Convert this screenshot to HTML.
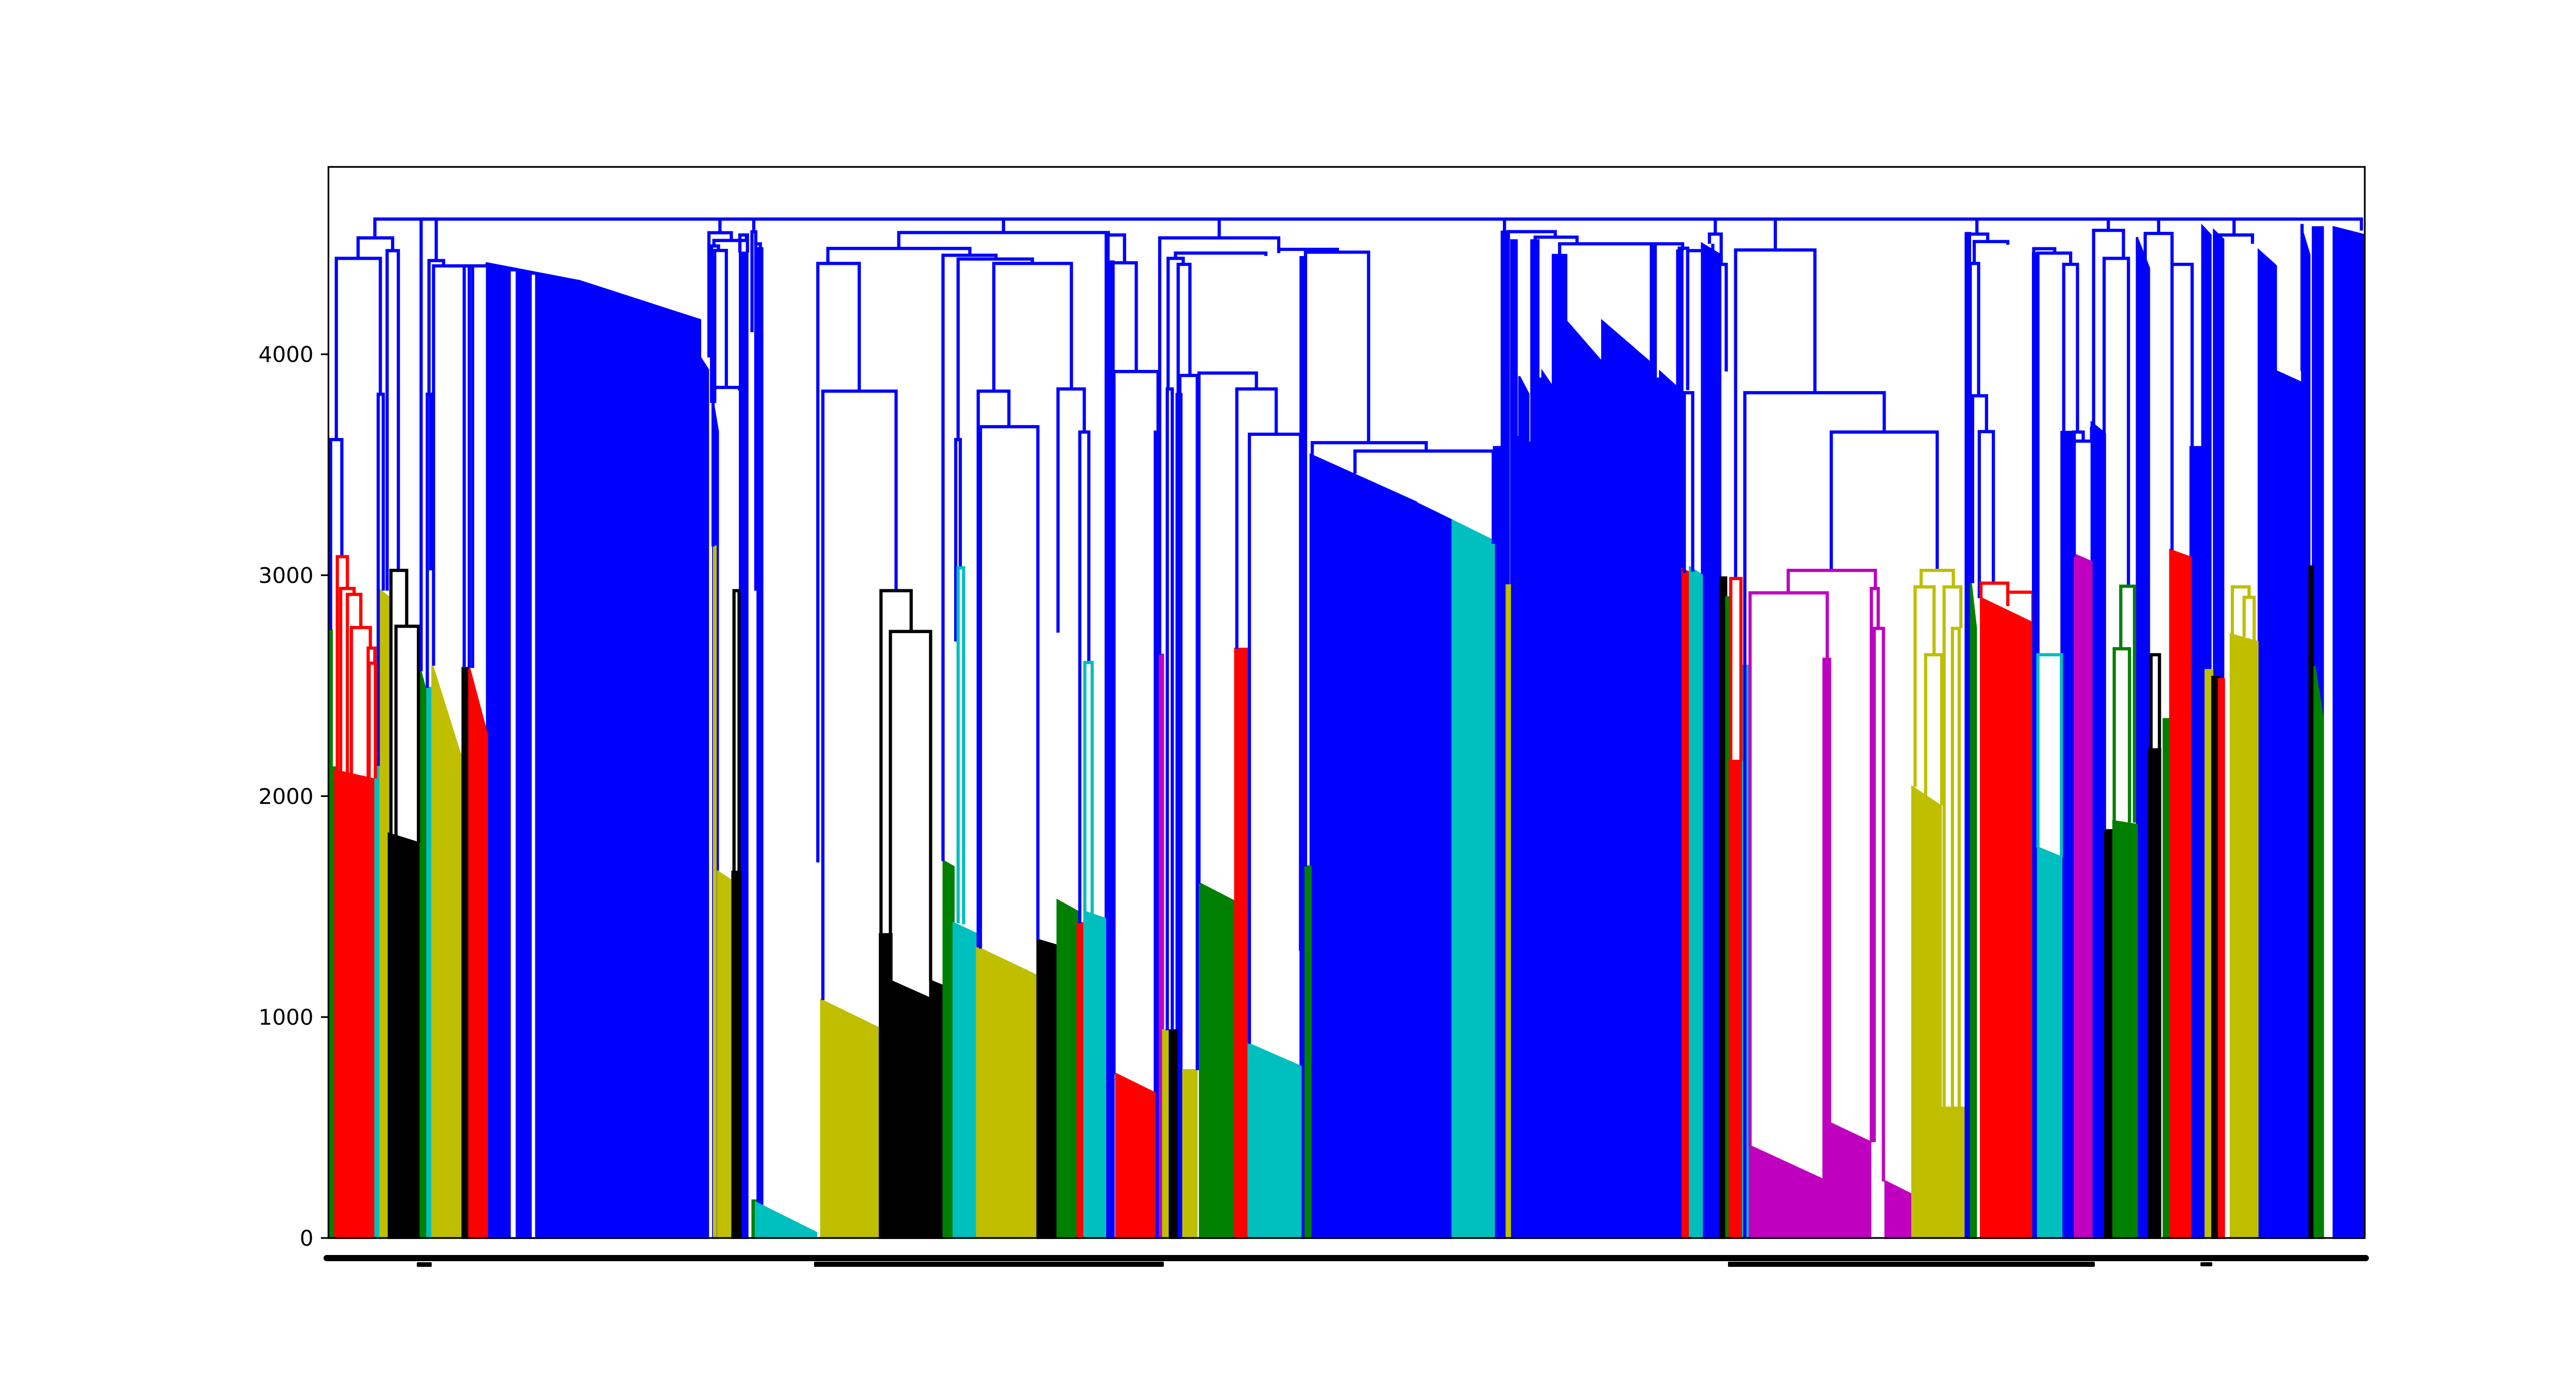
<!DOCTYPE html>
<html>
<head>
<meta charset="utf-8">
<style>
  html, body { margin:0; padding:0; background:#fff; }
  svg { display:block; }
  text { font-family: "DejaVu Sans", "Liberation Sans", sans-serif; }
</style>
</head>
<body>
<svg id="chart" xmlns="http://www.w3.org/2000/svg" width="5100" height="2700" viewBox="0 0 5100 2700">
  <rect x="0" y="0" width="5100" height="2700" fill="#ffffff"/>
  <g id="fills"></g>
  <g id="links"></g>
  <g id="axes"></g>
</svg>
<script>
// ---------- data ----------
const yTickValues = [0, 1000, 2000, 3000, 4000];
const yTickLabels = ["0", "1000", "2000", "3000", "4000"];

// dense leaf clusters (leaf-position units 0..1215, heights in distance units)
const fillStart = [0.5,0.5,4,28,31,36,55,59,62,80,84,94.6,150,221.8,229.5,232.4,230,241,245.5,256,253,255,294,329,336,359,367,373,387,423,435,447,451,463.7,466.5,470,493,496,498,502,506,510,520,541,549,580,583,586,649,670.7,695.4,700,703,705.7,709,710.5,716,717.7,722,724.3,730.5,738.6,760,789,792,794.5,804.7,807.9,812.3,819.5,830.5,834,836,844,848,892,896,929,945,962,977,980,986,1017,1020,1034,1042,1052,1060,1065,1079,1086.3,1095,1098.9,1111,1118,1125,1120,1124,1128,1135,1151.7,1162,1177.6,1182,1184,1185,1196.4];
const fillEnd = [4,2,28,31,36,55,59,62,79,84,94.6,150,221.8,226.5,232.4,241,231,246,250,258.9,255,291,329,336,359,367,373,387,423,435,447,451,464,465.5,468.5,493,496,498,502,506,509,518,541,549,580,583,586,649,670.7,695.4,700,704.3,705,709,710.5,716,717.7,722,724.3,730.5,738.6,760,789,792,794.5,804.7,807.9,812.3,819.5,830.5,834,835.5,844,847,892,896,920,945,962,977,979.5,983,1017,1020,1034,1042,1052,1060,1065,1079,1086.3,1093,1098.9,1111,1118,1123,1130.6,1124,1128,1131,1151,1162,1177.6,1182,1184,1190,1190,1214.5];
const fillHeightLeft = [2130,2750,2116,2137,2930,1830,2565,2490,2590,2580,2580,4412,4331,3986,3780,1658,3130,1658,4460,4480,170,160,1077,1375,1162,1165,1706,1425,1316,1350,1528,1425,1477,4540,4420,742,3650,2640,940,940,3820,760,1604,2667,879,4440,1682,3545,3327,3247,3580,4555,2954,4516,3626,3900,3600,4516,3890,3920,4450,4150,4150,4500,3890,3920,4470,3028,3035,4500,2990,2900,2160,2590,417,2622,520,256,2041,590,4549,2964,2896,4458,1767,3649,3093,3690,1846,1887,4530,2212,2349,3114,3580,4580,4560,2571,2540,2530,2732,4470,3924,4560,3040,4575,2588,4575];
const fillHeightRight = [2130,2750,2075,2137,2900,1785,2450,2490,2180,2580,2280,4331,4155,3930,3650,1614,3130,1658,4460,4480,170,24,947,1375,1084,1140,1680,1375,1186,1323,1477,1425,1443,4540,4420,656,3650,2640,940,940,3820,760,1522,2667,776,4440,1682,3330,3247,3154,3580,4555,2954,4516,3626,3820,3600,4516,3890,3850,4450,3963,3960,4500,3890,3850,4470,3010,3000,4450,2990,2900,2160,2590,263,2622,434,195,1955,590,4549,2760,2783,4458,1723,3649,3060,3640,1846,1870,4390,2212,2349,3080,3580,4540,4520,2571,2540,2530,2698,4400,3870,4450,3040,4575,2350,4540];
const fillColor = ["g","g","r","c","y","k","g","c","y","k","r","b","b","b","b","y","y","k","b","b","g","c","y","k","k","k","g","c","y","k","g","r","c","b","b","r","b","m","y","k","b","y","g","r","c","b","g","b","b","c","b","b","y","b","b","b","b","b","b","b","b","b","b","b","b","b","b","r","c","b","k","g","r","c","m","m","m","m","y","y","b","g","r","b","c","b","m","b","k","g","b","k","g","r","b","b","b","y","k","r","y","b","b","b","k","b","g","b"];

// white gaps between dense blue leaves
const gapStart = [108.8, 121.3];
const gapEnd = [111.7, 123.3];
const gapHeight = [4375, 4360];

// U-shaped links: left leaf, right leaf, merge height, left child height, right child height
const linkLeft = [27.7,17.7,4.7,35,1.3,29.7,37.3,40.3,5.3,7.3,11.3,13.7,23.7,24.3,55.3,60,59,62.7,81,86,227,230,233.6,228.6,230.5,229.5,242,245.5,252.7,253.8,255,256.5,292,295,329.7,335.3,298,340.3,402.8,366.7,375.7,374.3,375.7,397,387.7,389,435.3,448.3,451.3,465,468,468.7,496,531.5,500.5,501,507,508,505.4,519.4,542,549.5,567,583,587,612.5,701.7,704,720,734.6,809,806,811,824,827.5,829,839.6,863.3,836.7,845.1,896.7,871,848.2,920.6,922.3,950.3,946.7,953,964,969,977.2,983.6,982,979.6,981,985,986,1002,1017.5,1020,1020,1035.4,1040.3,1041.4,1053.2,1062,1059.5,1069.4,1065.5,1084,1092,1087.5,1100,1126,1137,1136,1143,1177.6];
const linkRight = [1213,38.3,31,41.7,8,32.7,46.7,53.7,11.3,15.3,19.3,25,27.7,28,64.3,68.7,61,86,84,94.6,240.4,249.4,233.6,232.7,237.4,245.3,245,250,255,253.8,257.7,258.4,316.7,338.7,347.7,359.3,382.7,465.3,402.8,398.3,420,377,379,443.3,406,423.3,451,453.7,455.7,475,482,495,567,531.5,503.5,510,514,518.4,559.3,553.7,565.5,580,602,620.6,655,695,701.7,732,745,808,814,811,826,831,827.5,834,886.9,863.3,842.8,928.3,959.9,923,894.3,924.7,927.8,969.5,958,962.6,974,973,990,983.6,1002,984.6,989.3,993.4,1002,1017,1030,1039.5,1034,1043.6,1047,1052,1071,1062,1074,1077.6,1074.6,1100,1092,1092.5,1112,1148,1137,1146,1149,1177.6];
const linkHeight = [4612,4527,4434,4469,3614,3819,3022,2769,3084,2940,2913,2763,2670,2602,4612,4424,3819,4400,4400,4400,4550,4515,4612,4490,4470,3850,2930,4540,4554,4612,4500,3836,4411,3833,2930,2745,4479,4551,4612,4448,4431,3614,3033,4411,3833,3672,3843,3648,2605,4540,4414,3922,4527,4612,3843,4434,4407,3904,4458,3915,3843,3638,4475,4462,3600,3562,4612,4555,4530,4500,3826,4480,4469,4544,4612,4407,4472,4612,2985,3826,3648,3022,2920,2940,2759,3022,2947,2640,2947,2759,4544,4612,4510,4411,3812,3650,2964,2923,4478,4458,2640,4407,3648,3607,4561,4612,4434,2950,2667,4547,4612,2640,4407,4540,4612,2947,2900,4590];
const linkLeftBase = [4527,4434,3614,2930,2752,2137,1830,1820,2116,2110,2100,2090,2080,2080,2565,3819,2490,2590,2580,2580,3986,4490,4550,3780,3780,3130,1658,4460,4100,4554,2930,2960,1700,1077,1375,1162,4411,4479,4551,1706,3614,2700,1425,3833,1316,1310,2740,1425,1477,0,0,742,2640,4527,940,3843,3820,3650,4434,1604,2667,879,4458,1682,3545,3460,4555,4516,4516,4450,3009,4470,3838,4500,4544,2990,2985,4472,2160,0,3022,2920,417,434,434,2947,2041,2000,590,590,0,4544,4411,2964,2964,2896,2896,2860,0,2640,1767,3649,3649,3084,3672,4561,1846,2667,1887,4390,4547,2212,3114,4540,4540,2732,2720,3924];
const linkRightBase = [4560,4469,3819,3022,3084,2930,2769,1790,2940,2913,2763,2670,2602,2080,4424,4400,3022,4400,2580,4412,4515,4540,4550,4470,3850,3836,1658,4460,4500,4554,3836,2960,3833,2930,2745,1165,4448,4540,4551,4431,4411,3033,1420,3843,3672,1350,3648,2605,1450,4414,3922,3650,4475,4527,940,4407,3904,760,4445,3843,3638,1300,4462,3600,3562,3142,4555,4530,4500,4470,3016,3838,4500,4407,4544,3922,3826,4472,2160,3648,3022,2940,2622,2759,256,2947,2640,1960,2759,590,4510,4544,4496,3812,3650,2964,2923,2783,4458,4407,1723,3648,3607,3672,4434,4561,2950,1880,1880,4407,4547,2212,3580,4500,4540,2900,2700,3924];
const linkColor = ["b","b","b","b","b","b","k","k","r","r","r","r","r","r","b","b","b","b","b","b","b","b","b","b","b","b","k","b","b","b","b","b","b","b","k","k","b","b","b","b","b","b","c","b","b","b","b","b","c","b","b","b","b","b","b","b","b","b","b","b","b","b","b","b","b","b","b","b","b","b","b","b","b","b","b","b","b","b","r","b","b","m","m","m","m","y","y","y","y","y","b","b","b","b","b","b","r","r","b","b","c","b","b","b","b","b","b","g","g","b","b","k","b","b","b","y","y","b"];

// ---------- scales ----------
const X0 = 637.5, X1 = 4590, LEAF_MAX = 1215;
const Y0 = 2403, Y1 = 324, V_MAX = 4848;
function xS(d) { return X0 + d * (X1 - X0) / LEAF_MAX; }
function yS(v) { return Y0 - v * (Y0 - Y1) / V_MAX; }
const COLORS = { b:"#0000ff", r:"#ff0000", c:"#00bfbf", y:"#bfbf00", k:"#000000", g:"#008000", m:"#bf00bf", w:"#ffffff" };
const NS = "http://www.w3.org/2000/svg";

const fillsG = document.getElementById('fills');
const linksG = document.getElementById('links');
const axesG = document.getElementById('axes');

function drawFill(i) {
  const p = document.createElementNS(NS, 'polygon');
  const pts = [[xS(fillStart[i]), yS(0)], [xS(fillStart[i]), yS(fillHeightLeft[i])],
               [xS(fillEnd[i]), yS(fillHeightRight[i])], [xS(fillEnd[i]), yS(0)]];
  p.setAttribute('points', pts.map(q => q[0].toFixed(1) + ',' + q[1].toFixed(1)).join(' '));
  p.setAttribute('fill', COLORS[fillColor[i]]);
  p.setAttribute('stroke', COLORS[fillColor[i]]);
  p.setAttribute('stroke-width', '4');
  
  
  fillsG.appendChild(p);
}
// blue clusters first, coloured ones on top
for (let i = 0; i < fillStart.length; i++) if (fillColor[i] === 'b') drawFill(i);
for (let i = 0; i < gapStart.length; i++) {
  const r = document.createElementNS(NS, 'rect');
  r.setAttribute('x', xS(gapStart[i]));
  r.setAttribute('y', yS(gapHeight[i]));
  r.setAttribute('width', xS(gapEnd[i]) - xS(gapStart[i]));
  r.setAttribute('height', yS(0) - yS(gapHeight[i]));
  r.setAttribute('fill', '#ffffff');
  
  
  fillsG.appendChild(r);
}
for (let i = 0; i < fillStart.length; i++) if (fillColor[i] !== 'b') drawFill(i);

for (let i = 0; i < linkLeft.length; i++) {
  const xl = xS(linkLeft[i]), xr = xS(linkRight[i]), yt = yS(linkHeight[i]);
  const p = document.createElementNS(NS, 'path');
  p.setAttribute('d', 'M' + xl.toFixed(1) + ',' + yS(linkLeftBase[i]).toFixed(1) +
    ' L' + xl.toFixed(1) + ',' + yt.toFixed(1) + ' L' + xr.toFixed(1) + ',' + yt.toFixed(1) +
    ' L' + xr.toFixed(1) + ',' + yS(linkRightBase[i]).toFixed(1));
  p.setAttribute('fill', 'none');
  p.setAttribute('stroke', COLORS[linkColor[i]]);
  p.setAttribute('stroke-width', '6.25');
  
  
  linksG.appendChild(p);
}

// axes frame
const frame = document.createElementNS(NS, 'rect');
frame.setAttribute('x', X0); frame.setAttribute('y', Y1);
frame.setAttribute('width', X1 - X0); frame.setAttribute('height', Y0 - Y1);
frame.setAttribute('fill', 'none'); frame.setAttribute('stroke', '#000'); frame.setAttribute('stroke-width', '3.3');


axesG.appendChild(frame);

for (let i = 0; i < yTickValues.length; i++) {
  const y = yS(yTickValues[i]);
  const t = document.createElementNS(NS, 'line');
  t.setAttribute('x1', X0 - 14.6); t.setAttribute('x2', X0);
  t.setAttribute('y1', y); t.setAttribute('y2', y);
  t.setAttribute('stroke', '#000'); t.setAttribute('stroke-width', '3.3');
  
  
  axesG.appendChild(t);
  const lb = document.createElementNS(NS, 'text');
  lb.setAttribute('x', X0 - 29); lb.setAttribute('y', y + 15);
  lb.setAttribute('text-anchor', 'end'); lb.setAttribute('font-size', '42');
  lb.setAttribute('fill', '#000');
  lb.textContent = yTickLabels[i];
  
  
  axesG.appendChild(lb);
}

// overlapping rotated leaf labels appear as black bars
const barX = [628, 1580, 3354, 809, 4271];
const barW = [3970, 679, 712, 29, 23];
const barY = [2436, 2449, 2449, 2450, 2450];
const barH = [12, 10, 10, 9, 8];
for (let i = 0; i < barX.length; i++) {
  const r = document.createElementNS(NS, 'rect');
  r.setAttribute('x', barX[i]); r.setAttribute('y', barY[i]);
  r.setAttribute('width', barW[i]); r.setAttribute('height', barH[i]);
  r.setAttribute('rx', i === 0 ? 6 : 2);
  r.setAttribute('fill', '#000');
  
  
  axesG.appendChild(r);
}
</script>
</body>
</html>
